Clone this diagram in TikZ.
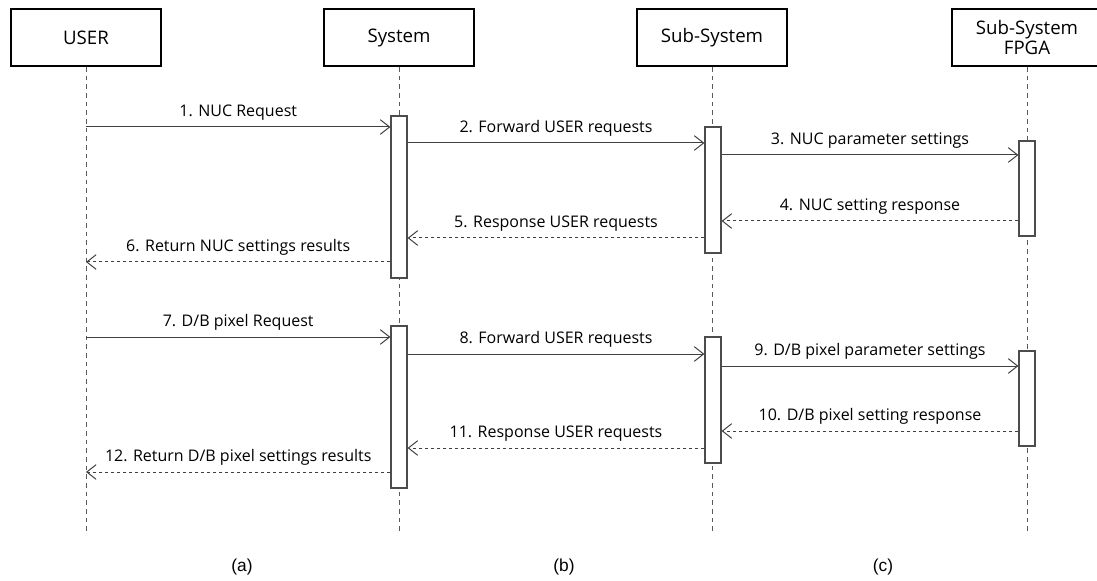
\documentclass[tikz,border=0pt]{standalone}
\usepackage{fontspec}
\setmainfont{Open Sans}
\newfontfamily\capfont{Liberation Sans}
\usetikzlibrary{arrows.meta}

\begin{document}
\begin{tikzpicture}[x = 0.75pt, y = -0.75pt]
\tikzstyle{ActorStyle}=[draw, line width = 1.5pt,
                        minimum width = 113pt,
                        minimum height = 42.75pt,
                        inner sep = 0pt, align = center,
                        font = \fontsize{14}{17}\selectfont]
\tikzstyle{LifeStyle}=[draw = black!65, line width = 0.6pt, dash pattern = on 3.5pt off 3pt]
\tikzstyle{ActStyle}=[draw = black!70, fill = white, line width = 0.9pt,
                      minimum width = 12pt, inner sep = 0pt]
\tikzstyle{CallStyle}=[draw = black!75, line width = 0.75pt,
                       -{Straight Barb[length = 7pt, width = 11pt]}]
\tikzstyle{ReplyStyle}=[CallStyle, dash pattern = on 2.5pt off 2pt]
\tikzstyle{MsgLabel}=[midway, above = 1.5pt, font = \fontsize{12}{14}\selectfont]
\tikzstyle{CapStyle}=[font = \capfont\fontsize{13}{15}\selectfont]

\clip (0,0) rectangle (1097,581);

% actors
\node[ActorStyle] (user) at (86,37.5) {USER};
\node[ActorStyle] (sys)  at (399,37.5) {System};
\node[ActorStyle] (sub)  at (712,37.5) {Sub-System};
\node[ActorStyle] (fpga) at (1027,37.5) {Sub-System\\[-2pt]FPGA};

% life lines
\coordinate (userEnd) at (86,532);
\coordinate (sysEnd)  at (399,532);
\coordinate (subEnd)  at (712,532);
\coordinate (fpgaEnd) at (1027,532);
\draw[LifeStyle] (user) -- (userEnd);
\draw[LifeStyle] (sys)  -- (sysEnd);
\draw[LifeStyle] (sub)  -- (subEnd);
\draw[LifeStyle] (fpga) -- (fpgaEnd);

% activations
\node[ActStyle, minimum height = 121.5pt]  (sysA)  at (399,197)   {};
\node[ActStyle, minimum height = 94.5pt]   (subA)  at (713,190)   {};
\node[ActStyle, minimum height = 71.25pt]  (fpgaA) at (1027,188.5) {};
\node[ActStyle, minimum height = 121.5pt]  (sysB)  at (399,407)   {};
\node[ActStyle, minimum height = 94.5pt]   (subB)  at (713,400)   {};
\node[ActStyle, minimum height = 71.25pt]  (fpgaB) at (1027,398.5) {};

% message rows
\coordinate (m1)  at (86,127);
\coordinate (m2)  at (86,143);
\coordinate (m3)  at (86,155);
\coordinate (m4)  at (86,221);
\coordinate (m5)  at (86,238);
\coordinate (m6)  at (86,262);
\coordinate (m7)  at (86,337);
\coordinate (m8)  at (86,354);
\coordinate (m9)  at (86,366);
\coordinate (m10) at (86,431);
\coordinate (m11) at (86,448);
\coordinate (m12) at (86,472);

% NUC
\draw[CallStyle]  (m1) -- (sysA.west |- m1) node[MsgLabel] {1. NUC Request};
\draw[CallStyle]  (sysA.east |- m2) -- (subA.west |- m2) node[MsgLabel] {2. Forward USER requests};
\draw[CallStyle]  (subA.east |- m3) -- (fpgaA.west |- m3) node[MsgLabel] {3. NUC parameter settings};
\draw[ReplyStyle] (fpgaA.west |- m4) -- (subA.east |- m4) node[MsgLabel] {4. NUC setting response};
\draw[ReplyStyle] (subA.west |- m5) -- (sysA.east |- m5) node[MsgLabel] {5. Response USER requests};
\draw[ReplyStyle] (sysA.west |- m6) -- (m6) node[MsgLabel] {6. Return NUC settings results};

% D/B pixel
\draw[CallStyle]  (m7) -- (sysB.west |- m7) node[MsgLabel] {7. D/B pixel Request};
\draw[CallStyle]  (sysB.east |- m8) -- (subB.west |- m8) node[MsgLabel] {8. Forward USER requests};
\draw[CallStyle]  (subB.east |- m9) -- (fpgaB.west |- m9) node[MsgLabel] {9. D/B pixel parameter settings};
\draw[ReplyStyle] (fpgaB.west |- m10) -- (subB.east |- m10) node[MsgLabel] {10. D/B pixel setting response};
\draw[ReplyStyle] (subB.west |- m11) -- (sysB.east |- m11) node[MsgLabel] {11. Response USER requests};
\draw[ReplyStyle] (sysB.west |- m12) -- (m12) node[MsgLabel] {12. Return D/B pixel settings results};

% captions
\node[CapStyle] (capA) at (242,567) {(a)};
\node[CapStyle] (capB) at (564,567) {(b)};
\node[CapStyle] (capC) at (883,567) {(c)};
\end{tikzpicture}
\end{document}
